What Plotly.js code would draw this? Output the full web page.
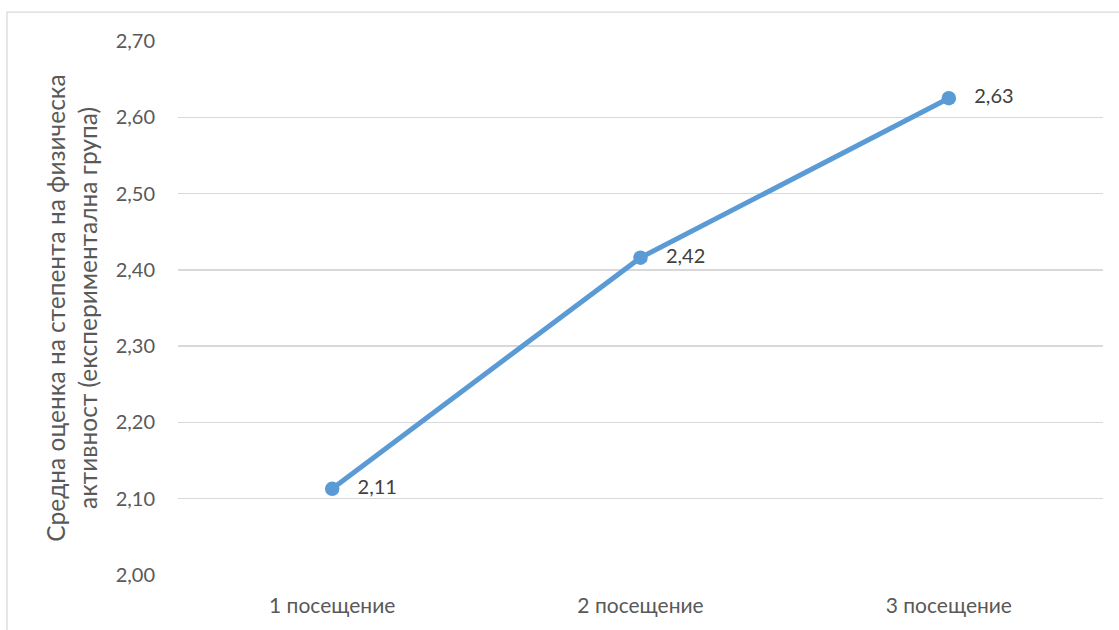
<!DOCTYPE html>
<html>
<head>
<meta charset="utf-8">
<script src="https://cdn.plot.ly/plotly-3.0.1.min.js"></script>
<style>
  html, body { margin: 0; padding: 0; background: #ffffff; }
  #chart { width: 1119px; height: 630px; }
</style>
</head>
<body>
<div id="chart"></div>
<script>
// Visits and the mean physical-activity score of the experimental group
const visits = ['1 посещение', '2 посещение', '3 посещение'];
const meanScores = [2.113, 2.416, 2.625];
const yTickValues = [2.0, 2.1, 2.2, 2.3, 2.4, 2.5, 2.6, 2.7];
const yTitle = 'Средна оценка на степента на физическа<br>активност (експериментална група)';

const FONT = 'Lato, "Open Sans", "Noto Sans", sans-serif';

const trace = {
  x: visits,
  y: meanScores,
  type: 'scatter',
  mode: 'lines+markers+text',
  line: { color: '#5b9bd5', width: 5 },
  marker: { color: '#5b9bd5', size: 14.5 },
  texttemplate: '   %{y:.2f}',
  textposition: 'middle right',
  textfont: { family: FONT, size: 20, color: '#404040' },
  cliponaxis: false,
  hoverinfo: 'skip'
};

const layout = {
  width: 1119,
  height: 630,
  separators: ', ',
  paper_bgcolor: '#ffffff',
  plot_bgcolor: '#ffffff',
  margin: { l: 178, r: 16, t: 41, b: 55 },
  showlegend: false,
  font: { family: FONT, color: '#595959', size: 20 },
  xaxis: {
    type: 'category',
    range: [-0.5, 2.5],
    showgrid: false,
    zeroline: false,
    showline: false,
    ticks: '',
    ticklabelstandoff: 16,
    tickfont: { family: FONT, size: 21, color: '#595959' },
    fixedrange: true
  },
  yaxis: {
    range: [2.0, 2.7],
    tickvals: yTickValues,
    tickformat: '.2f',
    showgrid: true,
    gridcolor: '#d9d9d9',
    gridwidth: 1.3,
    zeroline: false,
    showline: false,
    ticks: '',
    ticklabelstandoff: 22,
    tickfont: { family: FONT, size: 20, color: '#595959' },
    title: {
      text: yTitle,
      font: { family: FONT, size: 24.5, color: '#595959' },
      standoff: 11
    },
    fixedrange: true
  },
  shapes: [
    {
      // outer chart frame
      type: 'rect',
      xref: 'paper', yref: 'paper',
      x0: -0.1849, x1: 1.05,
      y0: -0.15, y1: 1.054,
      line: { color: '#d9d9d9', width: 1.3 },
      fillcolor: 'rgba(0,0,0,0)',
      layer: 'below'
    }
  ]
};

Plotly.newPlot('chart', [trace], layout, { staticPlot: true, displayModeBar: false });
</script>
</body>
</html>
